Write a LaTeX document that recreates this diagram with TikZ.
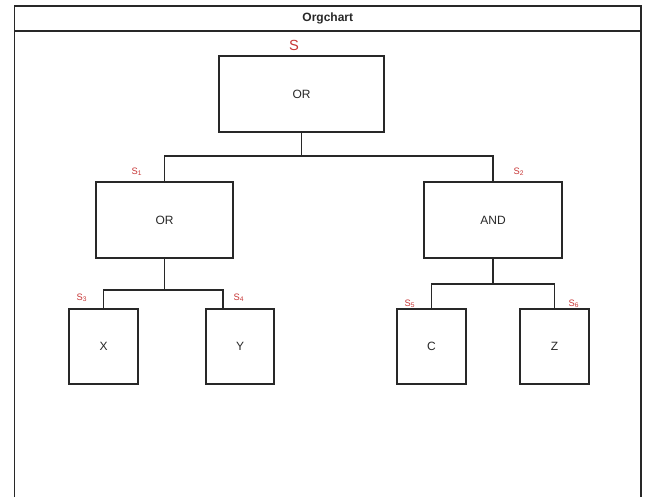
\documentclass[tikz,border=0pt]{standalone}
\usepackage{fontspec}
\setmainfont{Liberation Sans}
\definecolor{lbl}{RGB}{200,55,55}
\definecolor{ink}{RGB}{40,40,40}
\begin{document}
\begin{tikzpicture}[x=0.75pt,y=-0.75pt,
  box/.style={draw=ink,line width=1.1pt,fill=white,inner sep=0pt,font=\fontsize{9}{11}\selectfont,text=ink},
  frame/.style={draw=ink,line width=1.1pt},
  wire/.style={draw=ink,line width=1.1pt},
  tag/.style={text=lbl,inner sep=0pt,font=\fontsize{7}{8}\selectfont}]
\useasboundingbox[fill=white] (0,0) rectangle (649,497);
% frame
\draw[frame] (14.5,497) -- (14.5,6) -- (641,6) -- (641,497);
\draw[frame] (14.5,31) -- (641,31);
\node[inner sep=0pt,font=\fontsize{9}{11}\selectfont\bfseries,text=ink] (title) at (327.75,18.5) {Orgchart};
% boxes
\node[box,minimum width=123.75pt,minimum height=57pt] (root) at (301.5,94) {OR};
\node[box,minimum width=102.75pt,minimum height=57pt] (or) at (164.5,220) {OR};
\node[box,minimum width=103.5pt,minimum height=57pt] (and) at (493,220) {AND};
\node[box,minimum width=51.75pt,minimum height=56.25pt] (x) at (103.5,346.5) {X};
\node[box,minimum width=51pt,minimum height=56.25pt] (y) at (240,346.5) {Y};
\node[box,minimum width=51.75pt,minimum height=56.25pt] (c) at (431.5,346.5) {C};
\node[box,minimum width=51.75pt,minimum height=56.25pt] (z) at (554.5,346.5) {Z};
% junctions
\coordinate (j1) at (301.5,156);
\coordinate (j2) at (164.5,290);
\coordinate (j3) at (493,284);
\coordinate (yt) at (223,309);
% connectors
\draw[wire] (root.south) -- (j1) -| (or.north);
\draw[wire] (j1) -| (and.north);
\draw[wire] (or.south) -- (j2) -| (x.north);
\draw[wire] (j2) -| (yt);
\draw[wire] (and.south) -- (j3) -| (c.north);
\draw[wire] (j3) -| (z.north);
% labels
\node[text=lbl,inner sep=0pt,font=\fontsize{11}{12}\selectfont] (s) at (294,45) {S};
\node[tag] (s1) at (137,172) {S\textsubscript{1}};
\node[tag] (s2) at (519,172) {S\textsubscript{2}};
\node[tag] (s3) at (82,298) {S\textsubscript{3}};
\node[tag] (s4) at (239,298) {S\textsubscript{4}};
\node[tag] (s5) at (410,304) {S\textsubscript{5}};
\node[tag] (s6) at (574,304) {S\textsubscript{6}};
\end{tikzpicture}
\end{document}
